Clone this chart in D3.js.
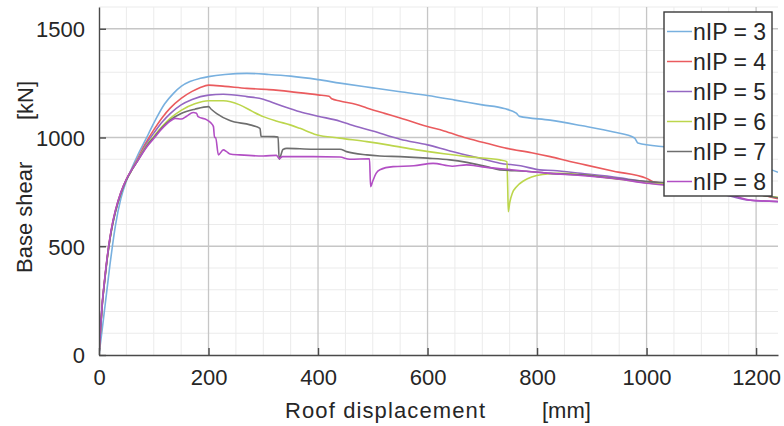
<!DOCTYPE html>
<html><head><meta charset="utf-8">
<script src="https://cdnjs.cloudflare.com/ajax/libs/d3/7.8.5/d3.min.js"></script>
<style>
html,body{margin:0;padding:0;background:#fff;}
svg text{font-family:"Liberation Sans",Arial,sans-serif;fill:#262626;}
</style></head>
<body><svg id="c" width="784" height="426"></svg>
<script>
// ---- data ----
const seriesNames = ["nIP = 3","nIP = 4","nIP = 5","nIP = 6","nIP = 7","nIP = 8"];
const seriesColors = ["#78b0df","#ea5b5e","#9467c2","#bcd64c","#6e6e6e","#b24fc4"];
const xTicks = [0,200,400,600,800,1000,1200];
const yTicks = [0,500,1000,1500];
const xLabelText = "Roof displacement";
const xUnitText = "[mm]";
const yLabelText = "Base shear";
const yUnitText = "[kN]";

const nIP3 = [[0,0],[5,100],[10,205],[15,310],[20,415],[25,510],[30,595],[40,720],[50,800],[60,860],[70,915],[80,965],[90,1015],[105,1090],[120,1155],[136,1203],[150,1235],[166,1257],[185,1272],[200,1280],[230,1290],[270,1295],[310,1290],[350,1282],[400,1266],[440,1250],[500,1228],[550,1210],[600,1193],[650,1172],[700,1150],[740,1133],[762,1112],[768,1097],[824,1080],[880,1055],[940,1025],[978,998],[984,975],[1040,955],[1100,935],[1158,912],[1195,889],[1215,865],[1240,840]];
const nIP4 = [[0,0],[3,130],[6,240],[10,340],[15,450],[20,540],[25,610],[30,665],[40,748],[50,808],[60,853],[70,900],[80,950],[90,995],[100,1035],[115,1090],[130,1135],[150,1180],[170,1212],[185,1230],[200,1241],[230,1235],[270,1226],[310,1220],[349,1211],[400,1196],[420,1190],[425,1178],[440,1168],[470,1152],[489,1136],[520,1112],[550,1090],[598,1052],[630,1030],[671,998],[710,972],[745,950],[790,930],[824,912],[860,890],[890,873],[940,845],[1000,812],[1012,797],[1050,785],[1100,770],[1150,755],[1219,731],[1240,718]];
const nIP5 = [[0,0],[3,125],[6,235],[10,335],[15,445],[20,535],[25,605],[30,660],[40,745],[50,806],[60,852],[70,895],[80,942],[90,985],[100,1020],[115,1070],[130,1110],[150,1150],[170,1175],[200,1195],[227,1199],[270,1188],[300,1176],[318,1160],[340,1140],[367,1118],[400,1098],[440,1075],[458,1060],[500,1030],[550,992],[600,966],[641,938],[690,908],[732,882],[770,870],[805,851],[830,848],[880,835],[950,815],[1000,795],[1050,780],[1100,768],[1146,735],[1183,713],[1240,705]];
const nIP6 = [[0,0],[3,125],[6,232],[10,332],[15,442],[20,532],[25,602],[30,658],[40,744],[50,805],[60,851],[70,892],[80,937],[90,975],[100,1005],[115,1050],[130,1088],[150,1125],[175,1155],[200,1169],[227,1169],[257,1150],[280,1120],[300,1096],[325,1075],[349,1058],[367,1042],[397,1013],[440,997],[489,981],[530,965],[580,943],[630,925],[671,912],[732,897],[745,889],[746.5,760],[747.5,659],[750,700],[755,745],[763,775],[775,800],[790,818],[810,830],[840,835],[885,828],[950,808],[1006,790],[1050,785],[1100,775],[1150,760],[1200,738],[1240,725]];
const nIP7 = [[0,0],[3,125],[6,232],[10,332],[15,442],[20,532],[25,602],[30,658],[40,744],[50,805],[60,851],[70,890],[80,932],[90,970],[100,1000],[115,1045],[130,1080],[150,1110],[175,1130],[200,1142],[205,1130],[215,1110],[239,1078],[276,1058],[294,1042],[296,1005],[320,1004],[327,1002],[329,900],[336,945],[343,950],[391,946],[440,946],[452,935],[489,920],[513,915],[550,912],[600,905],[641,897],[708,866],[732,851],[780,845],[824,835],[880,828],[950,810],[1006,797],[1050,790],[1100,780],[1150,762],[1200,740],[1240,722]];
const nIP8 = [[0,0],[3,130],[6,240],[10,340],[15,450],[20,540],[25,610],[30,665],[40,748],[50,808],[60,852],[70,890],[80,930],[90,965],[100,995],[115,1040],[130,1075],[139,1088],[150,1085],[160,1098],[172,1115],[178,1112],[181,1096],[197,1081],[205,1065],[209,1050],[211,1000],[213,1000],[218,920],[227,943],[233,935],[239,924],[257,920],[300,915],[324,918],[329,903],[335,912],[391,912],[440,910],[458,900],[494,902],[496,774],[500,800],[506,835],[513,852],[537,866],[575,870],[610,881],[645,868],[671,874],[700,865],[740,855],[780,845],[824,835],[880,825],[950,808],[1000,790],[1050,778],[1100,765],[1150,740],[1190,712],[1240,706]];
const seriesData = [nIP3,nIP4,nIP5,nIP6,nIP7,nIP8];

// ---- layout ----
const L=99, R=778, T=7, B=355;
const x = d3.scaleLinear().domain([0,1240]).range([L,R]);
const y = d3.scaleLinear().domain([0,1600]).range([B,T]);
const svg = d3.select("#c");

// minor grid
const gMinor = svg.append("g");
gMinor.selectAll("line.vx").data(d3.range(50,1240,50).filter(v=>v%200!==0)).join("line")
  .attr("x1",d=>x(d)).attr("x2",d=>x(d)).attr("y1",T).attr("y2",B)
  .attr("stroke","#ebebeb").attr("stroke-width",1);
gMinor.selectAll("line.hy").data(d3.range(100,1601,100).filter(v=>v%500!==0)).join("line")
  .attr("x1",L).attr("x2",R).attr("y1",d=>y(d)).attr("y2",d=>y(d))
  .attr("stroke","#ebebeb").attr("stroke-width",1);
// major grid
const gMajor = svg.append("g");
gMajor.selectAll("line.vx").data(xTicks.filter(v=>v>0)).join("line")
  .attr("x1",d=>x(d)).attr("x2",d=>x(d)).attr("y1",T).attr("y2",B)
  .attr("stroke","#c6c6c6").attr("stroke-width",1.3);
gMajor.selectAll("line.hy").data(yTicks.filter(v=>v>0)).join("line")
  .attr("x1",L).attr("x2",R).attr("y1",d=>y(d)).attr("y2",d=>y(d))
  .attr("stroke","#c6c6c6").attr("stroke-width",1.3);

// lines
const line = d3.line().x(d=>x(d[0])).y(d=>y(d[1])).curve(d3.curveMonotoneX);
svg.append("defs").append("clipPath").attr("id","clip").append("rect")
  .attr("x",L).attr("y",T).attr("width",R-L).attr("height",B-T);
const gLines = svg.append("g").attr("clip-path","url(#clip)");
seriesData.forEach((s,i)=>{
  gLines.append("path").datum(s).attr("d",line).attr("fill","none")
    .attr("stroke",seriesColors[i]).attr("stroke-width",1.6).attr("stroke-linejoin","round");
});

// axes
const fmt = d3.format("d");
const xAxis = d3.axisBottom(x).tickValues(xTicks).tickFormat(fmt).tickSizeInner(-7).tickSizeOuter(0).tickPadding(14);
const yAxis = d3.axisLeft(y).tickValues(yTicks).tickFormat(fmt).tickSizeInner(-7).tickSizeOuter(0).tickPadding(14);
const gx = svg.append("g").attr("transform",`translate(0,${B})`).call(xAxis);
const gy = svg.append("g").attr("transform",`translate(${L},0)`).call(yAxis);
[gx,gy].forEach(g=>{
  g.select(".domain").attr("stroke","#4a4a4a").attr("stroke-width",1.4);
  g.selectAll(".tick line").attr("stroke","#4a4a4a").attr("stroke-width",1.4);
  g.selectAll(".tick text").attr("font-size",22).attr("fill","#262626")
    .style("font-family",'"Liberation Sans",Arial,sans-serif');
});
gx.selectAll(".tick text").attr("dy","0.71em");
gy.selectAll(".tick text").attr("dy","0.36em");

// axis labels
svg.append("text").attr("x",285).attr("y",418).attr("font-size",22)
  .attr("textLength",200).attr("lengthAdjust","spacing").text(xLabelText);
svg.append("text").attr("x",542).attr("y",418).attr("font-size",22).text(xUnitText);
svg.append("text").attr("transform","translate(32,273) rotate(-90)").attr("font-size",22).text(yLabelText);
svg.append("text").attr("transform","translate(33,120) rotate(-90)").attr("font-size",22).text(yUnitText);

// legend
const lg = svg.append("g");
lg.append("rect").attr("x",664).attr("y",12).attr("width",108).attr("height",184)
  .attr("fill","#fff").attr("stroke","#3a3a3a").attr("stroke-width",1.4);
seriesNames.forEach((n,i)=>{
  const cy = 31.5 + i*30;
  lg.append("line").attr("x1",667).attr("x2",692).attr("y1",cy).attr("y2",cy)
    .attr("stroke",seriesColors[i]).attr("stroke-width",1.5);
  lg.append("text").attr("x",693).attr("y",cy).attr("dy","0.36em").attr("font-size",23).text(n);
});
</script></body></html>
